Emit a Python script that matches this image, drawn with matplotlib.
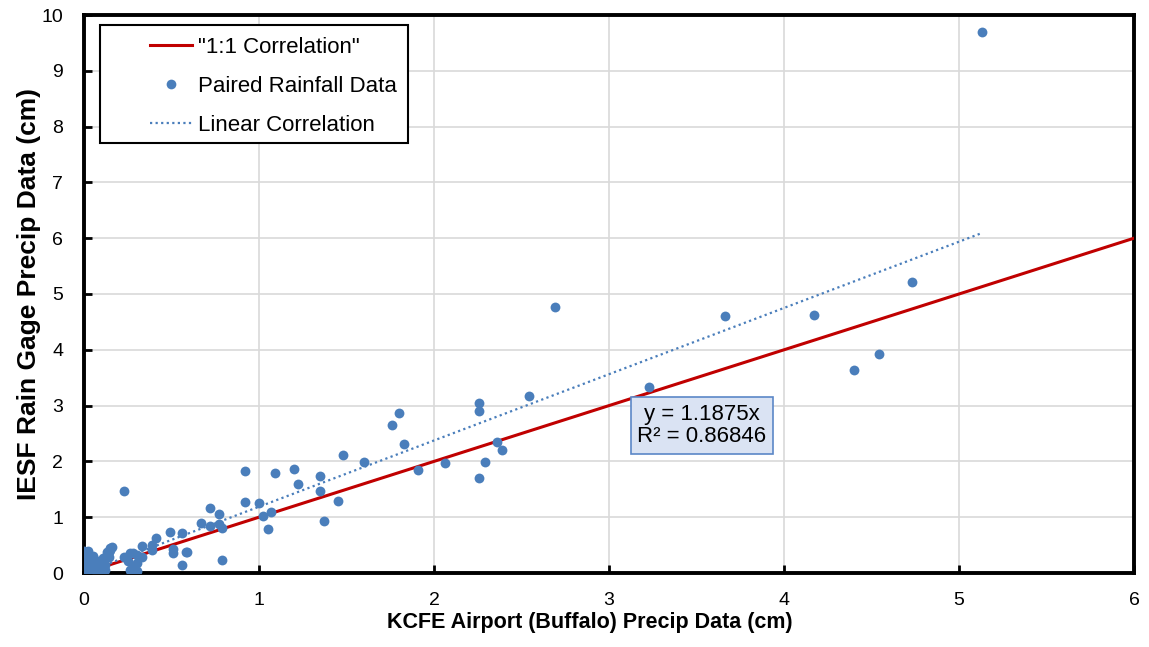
import matplotlib
matplotlib.use("Agg")
import matplotlib.pyplot as plt
from matplotlib.lines import Line2D
from matplotlib.patches import Rectangle
import numpy as np

plt.rcParams['font.family'] = ['Liberation Sans', 'DejaVu Sans']

# Paired rainfall data (cm): KCFE airport (x) vs IESF rain gage (y)
kcfe = [
    5.13, 4.73, 4.17, 3.66, 4.40, 4.54, 3.23, 2.69, 2.54, 2.26, 2.26, 2.36, 2.39,
    2.29, 2.26, 2.06, 1.91, 1.83, 1.80, 1.76, 1.60, 1.48, 1.35, 1.35, 1.45, 1.37,
    1.22, 1.20, 1.09, 0.92, 0.92, 1.00, 1.02, 1.07, 1.05, 0.72, 0.77, 0.67, 0.72,
    0.77, 0.79, 0.79, 0.56, 0.58, 0.56, 0.23, 0.49, 0.41, 0.39, 0.33, 0.39, 0.51,
    0.51, 0.59, 0.33, 0.30, 0.26, 0.23, 0.28, 0.25, 0.26, 0.28, 0.30, 0.27, 0.30,
    0.15, 0.16, 0.13, 0.14,
    0.00, 0.00, 0.00, 0.01, 0.01, 0.02, 0.02, 0.03, 0.03, 0.04, 0.05, 0.05, 0.06,
    0.07, 0.08, 0.09, 0.10, 0.11, 0.12, 0.13, 0.14, 0.15, 0.00, 0.02, 0.04, 0.06,
    0.08, 0.10, 0.12,
]
iesf = [
    9.70, 5.21, 4.63, 4.61, 3.64, 3.92, 3.34, 4.76, 3.17, 3.05, 2.91, 2.35, 2.21,
    1.99, 1.70, 1.98, 1.85, 2.31, 2.86, 2.66, 1.99, 2.12, 1.74, 1.47, 1.29, 0.93,
    1.60, 1.87, 1.79, 1.82, 1.27, 1.26, 1.03, 1.10, 0.78, 1.16, 1.06, 0.90, 0.84,
    0.87, 0.80, 0.24, 0.71, 0.37, 0.15, 1.47, 0.74, 0.63, 0.51, 0.49, 0.42, 0.43,
    0.36, 0.37, 0.29, 0.33, 0.36, 0.29, 0.36, 0.21, 0.06, 0.12, 0.18, 0.02, 0.03,
    0.42, 0.47, 0.37, 0.29,
    0.39, 0.02, 0.12, 0.20, 0.05, 0.39, 0.10, 0.25, 0.02, 0.15, 0.30, 0.05, 0.18,
    0.08, 0.22, 0.12, 0.03, 0.27, 0.15, 0.31, 0.38, 0.45, 0.08, 0.30, 0.22, 0.05,
    0.14, 0.20, 0.06,
]
slope = 1.1875
r2 = 0.86846
legend_labels = ['"1:1 Correlation"', 'Paired Rainfall Data', 'Linear Correlation']

W, H = 1149, 647
fig = plt.figure(figsize=(W / 100, H / 100), dpi=100)
AX_L, AX_R, AX_T, AX_B = 84, 1134, 15, 573
ax = fig.add_axes([AX_L / W, 1 - AX_B / H, (AX_R - AX_L) / W, (AX_B - AX_T) / H])


def axf(px, py):
    """pixel position in figure -> axes fraction"""
    return (px - AX_L) / (AX_R - AX_L), (AX_B - py) / (AX_B - AX_T)


ax.set_xlim(0, 6)
ax.set_ylim(0, 10)
ax.set_xticks(range(0, 7))
ax.set_yticks(range(0, 11))
ax.grid(True, color='#d9d9d9', linewidth=1.2)
ax.set_axisbelow(True)
for s in ax.spines.values():
    s.set_linewidth(2.8)
    s.set_color('black')
ax.tick_params(direction='in', length=6, width=2, labelsize=14, color='black')
ax.tick_params(axis='x', pad=14)
ax.tick_params(axis='y', pad=15)

red = '#c00000'
blue = '#4a7ebb'
dots = (0, (1, 1.5))

one_x = np.array([0, 6])
ax.plot(one_x, one_x, color=red, linewidth=2.2, zorder=3)
ax.scatter(kcfe, iesf, s=50, color=blue, zorder=4, linewidths=0)
fit_x = np.array([0, max(kcfe)])
ax.plot(fit_x, slope * fit_x, color=blue, linestyle=dots, linewidth=1.6, zorder=5)

# legend box drawn in the Excel style (handles inset from the frame)
x0, y0 = axf(100, 143)
x1, y1 = axf(408, 25)
ax.add_patch(Rectangle((x0, y0), x1 - x0, y1 - y0, transform=ax.transAxes,
                       facecolor='white', edgecolor='black', linewidth=1.5, zorder=7))
rows = [45, 84, 123]
for i, (lab, py) in enumerate(zip(legend_labels, rows)):
    hx0, hy = axf(150, py)
    hx1, _ = axf(192, py)
    hm, _ = axf(171, py)
    if i == 0:
        ax.add_line(Line2D([hx0, hx1], [hy, hy], transform=ax.transAxes, color=red,
                           linewidth=2.2, zorder=8))
    elif i == 1:
        ax.add_line(Line2D([hm], [hy], transform=ax.transAxes, marker='o', markersize=7,
                           color=blue, markeredgewidth=0, linestyle='none', zorder=8))
    else:
        ax.add_line(Line2D([hx0, hx1], [hy, hy], transform=ax.transAxes, color=blue,
                           linestyle=dots, linewidth=1.6, zorder=8))
    tx, _ = axf(198, py)
    ax.text(tx, hy, lab, transform=ax.transAxes, fontsize=16, ha='left', va='center_baseline',
            zorder=9)

ax.text(3.53, 2.64, f"y = {slope}x\nR² = {r2}", fontsize=16, ha='center', va='center',
        zorder=6, linespacing=1.1,
        bbox=dict(boxstyle='square,pad=0.3', facecolor='#dae3f3', edgecolor='#5b87c7', linewidth=1.2))

ax.set_ylabel('IESF Rain Gage Precip Data (cm)', fontsize=19, fontweight='bold', labelpad=0)
fig.text(0.513, 0.021, 'KCFE Airport (Buffalo) Precip Data (cm)', fontsize=15.5,
         fontweight='bold', ha='center', va='bottom')

fig.savefig('out.png', dpi=100)
